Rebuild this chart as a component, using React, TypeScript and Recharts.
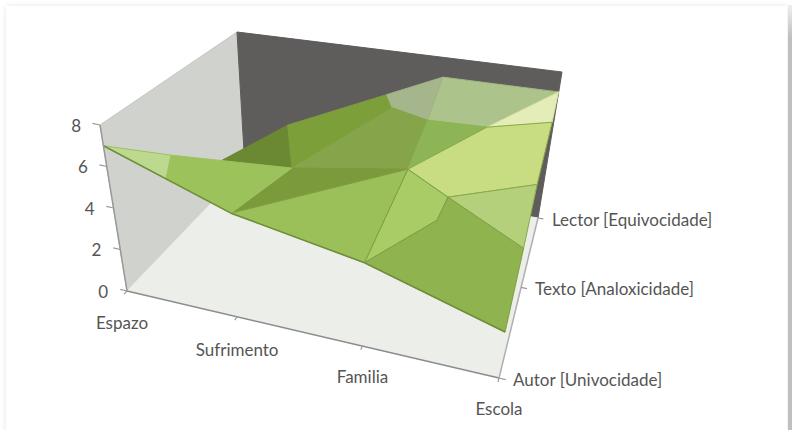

import React from 'react';
import { ScatterChart, Scatter, XAxis, YAxis } from 'recharts';

const WIDTH = 792;
const HEIGHT = 430;

const categories = ['Espazo', 'Sufrimento', 'Familia', 'Escola'];
const seriesNames = ['Autor [Univocidade]', 'Texto [Analoxicidade]', 'Lector [Equivocidade]'];
const valueTicks = [0, 2, 4, 6, 8];

// where each category / series sits along its floor axis (perspective squeezes them)
const categoryPos = [0, 0.296, 0.633, 1];
const seriesPos = [0, 0.566, 1];

// surface points: [along categories, along series, value]
const surface: Record<string, number[]> = {
  espAutor: [0, 0, 7],
  espEdge: [0, 0.454, 4.2],
  espLow: [0, 0.809, 1.7],
  frontBand: [0.145, 0, 6],
  sufAutor: [0.3, 0, 5],
  sufTexto: [0.306, 0.566, 3.9],
  sufBack: [0.153, 0.991, 3],
  famAutor: [0.633, 0, 4],
  famTexto: [0.639, 0.557, 5],
  famLector: [0.639, 1, 6.9],
  backBand: [0.467, 1, 5.5],
  ridge: [0.487, 1, 4.8],
  famBand: [0.618, 0.922, 5],
  midBand: [0.817, 0.806, 6],
  knee: [0.768, 0.483, 4.5],
  lowKnee: [0.757, 0.382, 4],
  escAutor: [1, 0, 2.2],
  escLow: [1, 0.375, 3.5],
  escTexto: [1, 0.607, 5],
  escHigh: [1, 0.905, 6],
  escLector: [1, 0.988, 7],
};

// surface facets, back to front
const facets: { pts: string[]; fill: string; edge: string }[] = [
  { pts: ['espLow', 'sufBack', 'sufTexto'], fill: '#6b8833', edge: '#6b8833' },
  { pts: ['sufBack', 'backBand', 'ridge', 'sufTexto'], fill: '#7c9f3a', edge: '#7c9f3a' },
  { pts: ['backBand', 'famLector', 'famBand', 'ridge'], fill: '#a5b58c', edge: '#a5b58c' },
  { pts: ['famLector', 'escLector', 'midBand', 'famBand'], fill: '#adc38c', edge: '#a2b87e' },
  { pts: ['sufTexto', 'ridge', 'famBand', 'famTexto'], fill: '#86a54a', edge: '#86a54a' },
  { pts: ['sufAutor', 'sufTexto', 'famTexto'], fill: '#7b9a3c', edge: '#7b9a3c' },
  { pts: ['famBand', 'midBand', 'famTexto'], fill: '#8db455', edge: '#8db455' },
  { pts: ['midBand', 'escLector', 'escHigh'], fill: '#e4ecb8', edge: '#d6e2a2' },
  { pts: ['famTexto', 'midBand', 'escHigh', 'escTexto', 'knee'], fill: '#c8dc82', edge: '#8aaa4c' },
  { pts: ['knee', 'escTexto', 'escLow'], fill: '#b5d07a', edge: '#8aaa4c' },
  { pts: ['famTexto', 'knee', 'lowKnee', 'famAutor'], fill: '#a9cc66', edge: '#7f9f42' },
  { pts: ['famAutor', 'lowKnee', 'knee', 'escLow', 'escAutor'], fill: '#8fb34e', edge: '#7f9f42' },
  { pts: ['sufAutor', 'famTexto', 'famAutor'], fill: '#9bc05a', edge: '#7f9f42' },
  { pts: ['espEdge', 'sufTexto', 'sufAutor', 'frontBand'], fill: '#9cc25c', edge: '#9cc25c' },
  { pts: ['espAutor', 'espEdge', 'frontBand'], fill: '#bcd98f', edge: '#9cc25c' },
];

const frontEdge = ['espAutor', 'sufAutor', 'famAutor', 'escAutor'];

// the box corners on screen, floor and value-8 level
const floor = { a: [127, 291], b: [499, 378], c: [245, 168], d: [538, 218] };
const top = { a: [100, 125], b: [521, 211], c: [237, 32], d: [562, 72] };
const maxValue = 8;

const lerp = (p: number, q: number, s: number) => p + (q - p) * s;

const project = (u: number, v: number, value: number) => {
  const h = value / maxValue;
  const at = (k: 'a' | 'b' | 'c' | 'd', i: number) => lerp(floor[k][i], top[k][i], h);
  const coord = (i: number) => lerp(lerp(at('a', i), at('b', i), u), lerp(at('c', i), at('d', i), u), v);
  return { x: coord(0), y: coord(1) };
};

const closed = (pts: number[][]) => [...pts, pts[0]].map((p) => project(p[0], p[1], p[2]));

const noMark = () => <g />;

const Poly = (pts: number[][], fill: string, stroke: string, width: number, key: string) => (
  <Scatter
    key={key}
    data={closed(pts)}
    isAnimationActive={false}
    shape={noMark}
    line={{ fill, stroke, strokeWidth: width, strokeLinejoin: 'round' }}
    lineJointType="linear"
  />
);

const Seg = (a: number[], b: number[], stroke: string, width: number, key: string) => (
  <Scatter
    key={key}
    data={[project(a[0], a[1], a[2]), project(b[0], b[1], b[2])]}
    isAnimationActive={false}
    shape={noMark}
    line={{ stroke, strokeWidth: width, fill: 'none' }}
    lineJointType="linear"
  />
);

const labelShape = (dx: number, dy: number, anchor: string) => (props: any) => (
  <text
    x={props.cx + dx}
    y={props.cy + dy}
    textAnchor={anchor}
    dominantBaseline="central"
    fontFamily="Lato"
    fontSize={17}
    fill="#555"
  >
    {props.payload.label}
  </text>
);

const AxisLabel = (p: number[], label: string, dx: number, dy: number, anchor: string, key: string) => (
  <Scatter
    key={key}
    data={[{ ...project(p[0], p[1], p[2]), label }]}
    isAnimationActive={false}
    shape={labelShape(dx, dy, anchor)}
  />
);

const categoryLabelOffset = [[-5, 31], [0, 33], [0, 30], [0, 30]];

export default function App() {
  return (
    <div style={{ position: 'absolute', left: 0, top: 0, width: WIDTH, height: HEIGHT, background: '#fff', overflow: 'hidden' }}>
      <div style={{ position: 'absolute', left: 6, top: 6, width: 781, height: 430, boxShadow: '0 0 6px rgba(0,0,0,0.1)' }} />
      <div style={{ position: 'absolute', right: 0, top: 5, width: 4, height: HEIGHT, background: 'linear-gradient(#efefef, #c0c0c0 32px)' }} />
      <ScatterChart width={WIDTH} height={HEIGHT} margin={{ top: 0, right: 0, bottom: 0, left: 0 }}>
        <XAxis type="number" dataKey="x" domain={[0, WIDTH]} hide />
        <YAxis type="number" dataKey="y" domain={[0, HEIGHT]} reversed hide />

        {Poly([[0, 0, 0], [0, 0, 8], [0, 1, 8], [0, 1, 0]], '#d0d2ce', '#c4c6bf', 1, 'wallLeft')}
        {Poly([[0, 1, 0], [0, 1, 8], [1, 1, 8], [1, 1, 0]], '#5f5c5c', '#5f5c5c', 1, 'wallBack')}
        {Poly([[0, 0, 0], [1, 0, 0], [1, 1, 0], [0, 1, 0]], '#ecEEe9', '#ecEEe9', 1, 'floor')}

        {facets.map((f, i) => Poly(f.pts.map((n) => surface[n]), f.fill, f.edge, 1, `facet${i}`))}
        {frontEdge.slice(1).map((n, i) => Seg(surface[frontEdge[i]], surface[n], '#6f8f3a', 1.6, `front${i}`))}

        {Seg([0, 0, 0], [0, 0, 8], '#999', 1.5, 'axisValue')}
        {Seg([0, 0, 0], [1, 0, 0], '#8c8c8c', 1.5, 'axisCategory')}
        {Seg([1, 0, 0], [1, 1, 0], '#b0b0b0', 1.5, 'axisSeries')}

        {valueTicks.map((t) => Seg([0, 0, t], [-0.018, 0, t], '#999', 1.2, `tickV${t}`))}
        {categories.map((c, i) => Seg([categoryPos[i], 0, 0], [categoryPos[i], -0.025, 0], '#999', 1.2, `tickC${c}`))}
        {seriesNames.map((s, i) => Seg([1, seriesPos[i], 0], [1.018, seriesPos[i], 0], '#999', 1.2, `tickS${i}`))}

        {valueTicks.map((t) => AxisLabel([0, 0, t], String(t), -19, 0, 'end', `labelV${t}`))}
        {categories.map((c, i) => AxisLabel([categoryPos[i], 0, 0], c, categoryLabelOffset[i][0], categoryLabelOffset[i][1], 'middle', `labelC${i}`))}
        {seriesNames.map((s, i) => AxisLabel([1, seriesPos[i], 0], s, 14, 1, 'start', `labelS${i}`))}
      </ScatterChart>
    </div>
  );
}
